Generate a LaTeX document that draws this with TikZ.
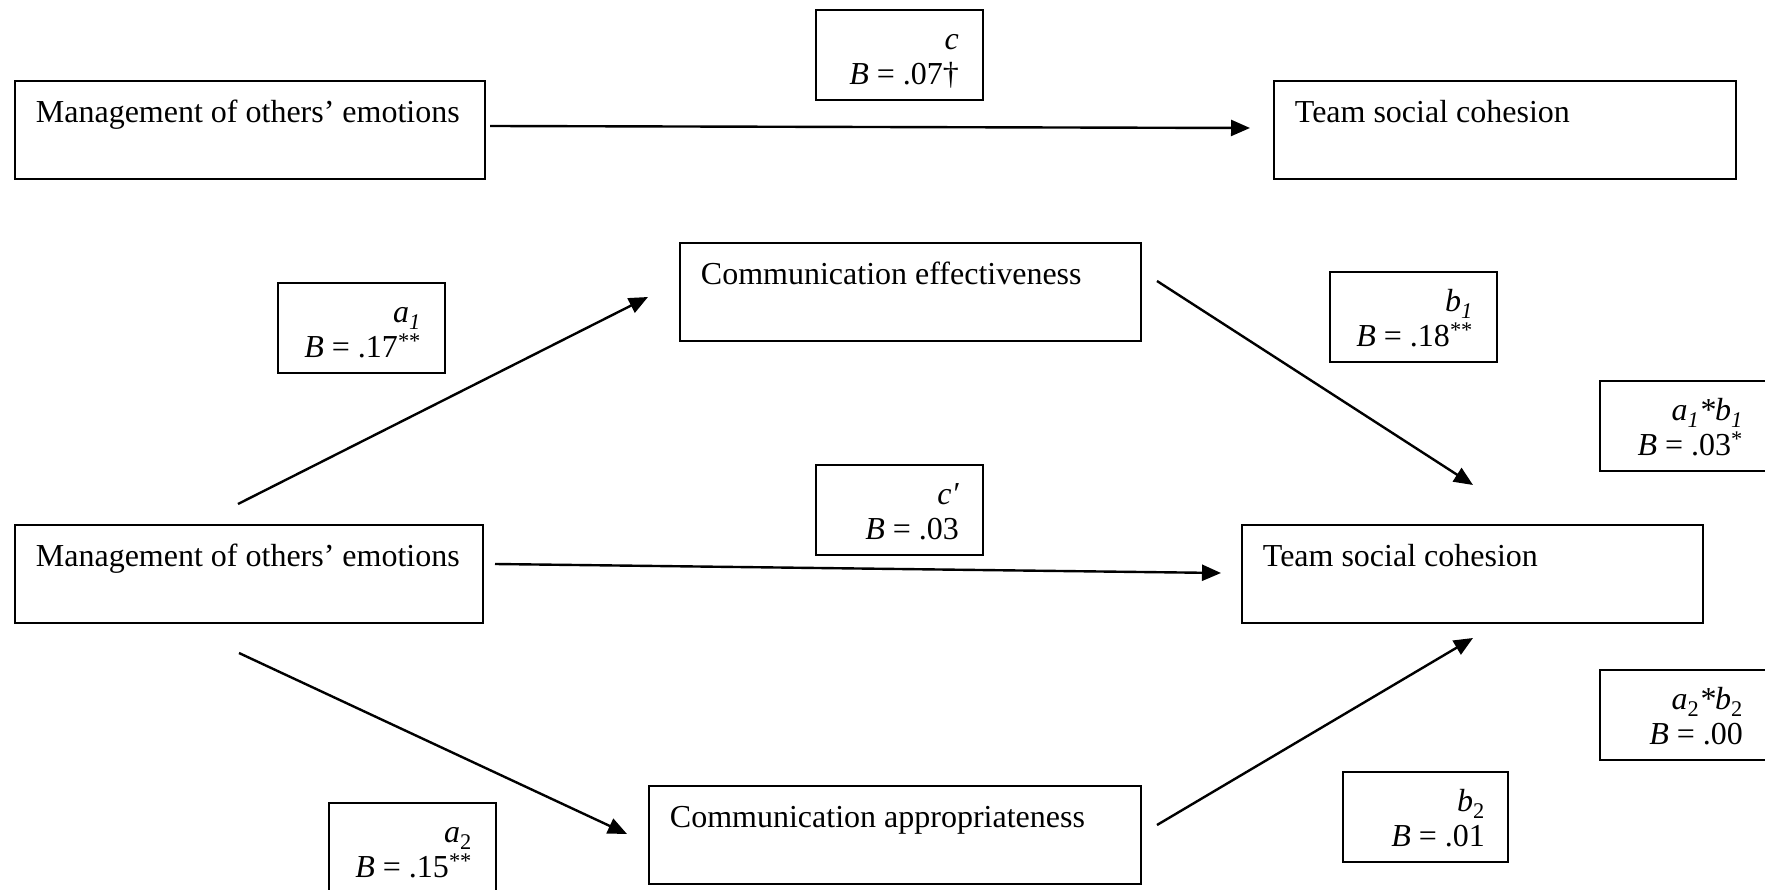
\documentclass[tikz,border=0pt]{standalone}
\usepackage{fontspec}
\setmainfont{Liberation Serif}
\usetikzlibrary{arrows.meta}
\newcommand{\mtext}[2]{\parbox[t][98pt][t]{#1}{\raggedright\rule{0pt}{42pt}\mbox{#2}}}
\newcommand{\ltext}[2]{\parbox[t][90pt][t]{119pt}{\raggedleft\lineskiplimit=-100pt\rule{0pt}{40pt}#1\par #2}}
\tikzset{
  mbox/.style={draw, line width=1.8pt, inner sep=0pt, anchor=north west, minimum height=98pt},
  lbox/.style={draw, line width=1.8pt, inner sep=0pt, anchor=north west, minimum width=167pt, minimum height=90pt},
  arr/.style={-{Triangle[length=19pt,width=16pt]}, line width=2.4pt}
}
\begin{document}
\begin{tikzpicture}[x=1pt,y=1pt,font=\fontsize{32}{35}\selectfont]
\useasboundingbox (0,0) rectangle (1765,-890);
% main boxes
\node[mbox, minimum width=470pt] (m1) at (14,-80) {\mtext{428pt}{Management of others’ emotions}};
\node[mbox, minimum width=462pt] (t1) at (1273,-80) {\mtext{420pt}{Team social cohesion}};
\node[mbox, minimum width=461pt] (ce) at (679,-242) {\mtext{419pt}{Communication effectiveness}};
\node[mbox, minimum width=468pt] (m2) at (14,-524) {\mtext{426pt}{Management of others’ emotions}};
\node[mbox, minimum width=461pt] (t2) at (1241,-524) {\mtext{419pt}{Team social cohesion}};
\node[mbox, minimum width=492pt] (ca) at (648,-785) {\mtext{450pt}{Communication appropriateness}};
% label boxes
\node[lbox] (lc) at (815,-9) {\ltext{\textit{c}}{\textit{B} = .07†}};
\node[lbox] (la1) at (277,-282) {\ltext{\textit{a}\textsubscript{\textit{1}}}{\textit{B} = .17\textsuperscript{**}}};
\node[lbox] (lb1) at (1329,-271) {\ltext{\textit{b}\textsubscript{\textit{1}}}{\textit{B} = .18\textsuperscript{**}}};
\node[lbox] (lab1) at (1599,-380) {\ltext{\textit{a}\textsubscript{\textit{1}}\textit{*b}\textsubscript{\textit{1}}}{\textit{B} = .03\textsuperscript{*}}};
\node[lbox] (lcp) at (815,-464) {\ltext{\textit{c′}}{\textit{B} = .03}};
\node[lbox] (lab2) at (1599,-669) {\ltext{\textit{a}\textsubscript{2}\textit{*b}\textsubscript{2}}{\textit{B} = .00}};
\node[lbox, minimum width=165pt] (lb2) at (1342,-771) {\ltext{\textit{b}\textsubscript{2}}{\textit{B} = .01}};
\node[lbox] (la2) at (328,-802) {\ltext{\textit{a}\textsubscript{2}}{\textit{B} = .15\textsuperscript{**}}};
% connector ends
\coordinate (cs) at (490,-126);  \coordinate (ce1) at (1250,-128);
\coordinate (a1s) at (238,-504); \coordinate (a1e) at (648,-297);
\coordinate (b1s) at (1157,-281); \coordinate (b1e) at (1473,-485);
\coordinate (cps) at (495,-564); \coordinate (cpe) at (1221,-573);
\coordinate (a2s) at (239,-653); \coordinate (a2e) at (627,-834);
\coordinate (b2s) at (1157,-825); \coordinate (b2e) at (1473,-638);
% connectors
\draw[arr] (cs) -- (ce1);
\draw[arr] (a1s) -- (a1e);
\draw[arr] (b1s) -- (b1e);
\draw[arr] (cps) -- (cpe);
\draw[arr] (a2s) -- (a2e);
\draw[arr] (b2s) -- (b2e);
\end{tikzpicture}
\end{document}
